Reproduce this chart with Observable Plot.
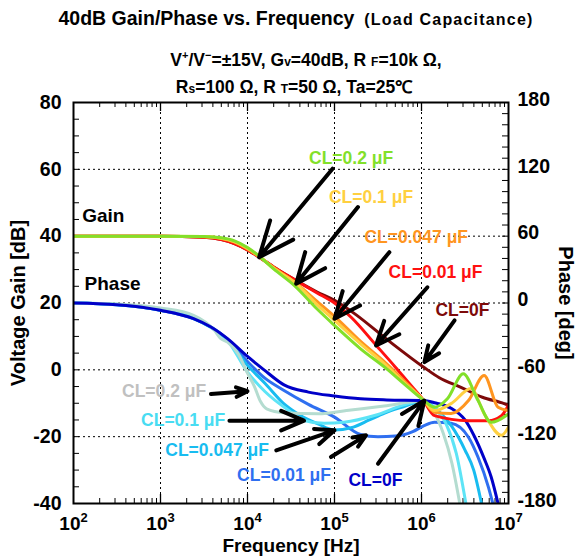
<!DOCTYPE html>
<html><head><meta charset="utf-8">
<script src="https://cdn.jsdelivr.net/npm/d3@7"></script>
<script src="https://cdn.jsdelivr.net/npm/@observablehq/plot@0.6"></script>
<style>
body{margin:0;background:#fff;font-family:"Liberation Sans",Arial,sans-serif;}
#wrap{position:relative;width:578px;height:560px;overflow:hidden;}
#chart{position:absolute;left:0;top:0;}
.t{position:absolute;left:0;width:600px;text-align:center;font-weight:bold;color:#000;white-space:nowrap;font-family:"Liberation Sans",Arial,sans-serif;}
.s{font-size:12px;}
</style></head><body>
<div id="wrap">
<div id="chart"></div>
<div class="t" style="top:7px;font-size:19.5px;left:-4px;">40dB Gain/Phase vs. Frequency<span style="font-size:16px;letter-spacing:1.2px;margin-left:10px">(Load Capacitance)</span></div>
<div class="t" style="top:49px;font-size:17.5px;left:6px;">V<sup style="font-size:11px">+</sup>/V<sup style="font-size:11px">−</sup>=±15V, G<span class="s">v</span>=40dB, R <span class="s">F</span>=10k Ω,</div>
<div class="t" style="top:74px;font-size:17.5px;left:-6px;">R<span class="s">s</span>=100 Ω, R <span class="s">T</span>=50 Ω, Ta=25℃</div>
</div>
<script>
// ---- Gain curves: log10(frequency/Hz) and gain [dB] ----
const gainExp0F   = [2,3,3.5,3.7,3.85,4.0,4.135,4.3,4.54,4.8,5.0,5.226,5.617,6.03,6.2,6.46,6.7,6.95,7.0];
const gainDb0F    = [40,40,39.7,39.0,37.8,35.9,33.7,30.8,27.0,23.3,20.8,16.9,8.8,0.7,-2.3,-5.3,-8.2,-10.1,-10.6];
const gainExp001  = [2,3,3.5,3.7,3.85,4.0,4.135,4.3,4.54,4.8,5.0,5.2,5.48,5.7,5.85,6.02,6.15,6.54,6.77,6.92,7.0];
const gainDb001   = [40,40,39.7,39.0,37.8,35.9,33.7,30.8,27.0,23.0,20.0,15.5,7.3,0.8,-3.8,-9,-13.7,-15.2,-15.2,-13.7,-10.5];
const gainExp0047 = [2,3,3.5,3.7,3.85,4.0,4.135,4.3,4.54,4.8,5.0,5.3,5.6,5.8,6.02,6.15,6.34,6.54,6.72,6.88,7.0];
const gainDb0047  = [40,40,39.8,39.3,38.2,36.2,33.8,30.6,26.3,20.5,16,8.5,1.8,-3.3,-9,-12.7,-13.1,-9.2,-1.7,-11.2,-12.2];
const gainExp01   = [2,3,3.5,3.7,3.85,4.0,4.135,4.3,4.56,4.8,5.0,5.3,5.6,5.8,6.02,6.15,6.34,6.57,6.72,6.92,7.0];
const gainDb01    = [40,40,39.9,39.4,38.4,36.4,34.0,30.4,25.8,19.5,14.8,7.8,1.2,-3.8,-9,-12.2,-10.1,-5.6,-13.1,-19.6,-17.1];
const gainExp02   = [2,3,3.5,3.7,3.85,4.0,4.135,4.3,4.54,4.8,5.0,5.3,5.6,5.8,6.02,6.15,6.3,6.48,6.65,6.8,7.0];
const gainDb02    = [40,40,39.9,39.5,38.6,36.6,34.0,30.2,25.2,18.2,13.3,6.3,0.3,-4.2,-9,-11.2,-8.6,-1.2,-9.2,-15.7,-13.2];

// ---- Phase curves: log10(frequency/Hz) and phase [deg] ----
const phExp0F   = [2,2.5,3,3.38,3.58,3.77,4.0,4.19,4.42,4.7,5.0,5.3,5.6,6.02,6.15,6.34,6.5,6.6,6.72,6.8,6.88];
const phDeg0F   = [0,-1.5,-6.5,-14,-21.5,-32,-48,-60,-73.5,-80,-83.5,-86,-87,-87.5,-89.5,-94.5,-105,-118.5,-139.5,-156,-180];
const phExp001  = [2,2.5,3,3.38,3.58,3.77,4.0,4.2,4.42,4.7,5.0,5.3,5.5,5.7,5.9,6.03,6.15,6.34,6.54,6.65,6.77,6.82];
const phDeg001  = [0,-1.5,-6.5,-14,-21.5,-32.5,-52.5,-67.5,-78.5,-91,-102.5,-118,-120,-119.5,-115.5,-110,-107,-108,-120.5,-138.5,-165.5,-180];
const phExp0047 = [2,2.5,3,3.38,3.58,3.77,4.0,4.2,4.42,4.6,4.81,5.0,5.19,5.4,5.57,5.8,6.02,6.2,6.35,6.5,6.6,6.69];
const phDeg0047 = [0,-1.5,-6.5,-14,-22,-33,-56,-72,-90.5,-100.5,-108.5,-114,-112,-105,-99,-93,-88,-97.5,-111,-132,-150,-180];
const phExp01   = [2,2.5,3,3.38,3.58,3.77,4.0,4.2,4.5,4.63,4.88,5.11,5.46,5.8,6.02,6.15,6.28,6.4,6.51];
const phDeg01   = [0,-1.2,-6,-13.2,-21.6,-33.6,-62,-79.5,-98,-105,-108,-107,-101,-91.5,-87.5,-94.5,-108,-135,-180];
const phExp02   = [2,2.5,3,3.38,3.62,3.69,3.77,3.9,4.0,4.08,4.15,4.22,4.42,4.81,5.19,5.57,6.0,6.15,6.25,6.35,6.44];
const phDeg02   = [0,-0.9,-4.5,-11,-24.6,-31.8,-35,-46.5,-63,-75,-88.5,-95,-98.5,-99.5,-96,-92.5,-88,-99,-117,-144,-180];

// ---- ticks ----
const xTicks = [1e2,1e3,1e4,1e5,1e6,1e7];
const gainTicks = [-40,-20,0,20,40,60,80];
const phaseTicks = [-180,-120,-60,0,60,120,180];

// ---- colours ----
const gainColors  = {"0F":"#7d0a0a","0.01":"#ff1010","0.047":"#ff9520","0.1":"#ffd040","0.2":"#82e02a"};
const phaseColors = {"0F":"#0000c8","0.01":"#2f6ff0","0.047":"#18bcf0","0.1":"#5de4f6","0.2":"#b4dcd0"};
const phaseLabelColors = {"0F":"#0000c8","0.01":"#2f6ff0","0.047":"#18bcf0","0.1":"#48dcf2","0.2":"#c0c0c0"};

// ---- annotations (frequency Hz, level in dB-axis units) ----
const gainLabelKeys = ["0.2","0.1","0.047","0.01","0F"];
const gainLabelF  = [1.55e5,2.63e5,8.7e5,1.45e6,2.95e6];
const gainLabelDb = [63.2,51.7,39.7,29.2,17.8];
const gainArrowF1 = [9.5e4,1.86e5,4.27e5,1.17e6,2.4e6];
const gainArrowDb1= [60.2,48.7,35.2,24.7,14.8];
const gainArrowF2 = [1.36e4,3.63e4,1.0e5,3.0e5,1.08e6];
const gainArrowDb2= [33.7,25.8,15.3,7.3,2.3];

const phLabelKeys = ["0.2","0.1","0.047","0.01","0F"];
const phLabelF  = [1.1e3,1.82e3,4.47e3,2.63e4,2.95e5];
const phLabelDb = [-6.4,-15.2,-24.1,-31.6,-33.1];
const phArrowF1 = [3.8e3,6.2e3,2.14e4,9.1e4,3.16e5];
const phArrowDb1= [-7.2,-15.2,-24.1,-26.1,-28.1];
const phArrowF2 = [1.0e4,4.47e4,1.0e5,2.3e5,1.08e6];
const phArrowDb2= [-6.4,-15.2,-18.1,-19.6,-9.2];

const W = 578, H = 560, mL = 73, mR = 70, mT = 102, mB = 57;
const pw = W - mL - mR, ph = H - mT - mB;
const degToDb = p => (p + 60) / 3;

const series = (exps, vals) => exps.map((e, i) => ({f: 10 ** e, v: vals[i]}));
const gainSeries = [
  ["0F", series(gainExp0F, gainDb0F)],
  ["0.01", series(gainExp001, gainDb001)],
  ["0.047", series(gainExp0047, gainDb0047)],
  ["0.1", series(gainExp01, gainDb01)],
  ["0.2", series(gainExp02, gainDb02)]
];
const phaseSeries = [
  ["0.01", series(phExp001, phDeg001.map(degToDb))],
  ["0.047", series(phExp0047, phDeg0047.map(degToDb))],
  ["0.1", series(phExp01, phDeg01.map(degToDb))],
  ["0.2", series(phExp02, phDeg02.map(degToDb))],
  ["0F", series(phExp0F, phDeg0F.map(degToDb))]
];

const xMinor = [];
for (let d = 2; d < 7; d++) for (let m = 2; m < 10; m++) xMinor.push(m * 10 ** d);
const xMajorInner = [1e3,1e4,1e5,1e6];
const yMinorLeft = d3.range(-40, 81, 5);
const yMinorRight = d3.range(-180, 181, 10).map(degToDb);

const labelRows = [
  ...gainLabelKeys.map((k, i) => ({f: gainLabelF[i], v: gainLabelDb[i], t: "CL=" + (k === "0F" ? "0F" : k + " μF"), c: gainColors[k]})),
  ...phLabelKeys.map((k, i) => ({f: phLabelF[i], v: phLabelDb[i], t: "CL=" + (k === "0F" ? "0F" : k + " μF"), c: phaseLabelColors[k]}))
];
const arrowRows = [
  ...gainArrowF1.map((f, i) => ({x1: f, y1: gainArrowDb1[i], x2: gainArrowF2[i], y2: gainArrowDb2[i]})),
  ...phArrowF1.map((f, i) => ({x1: f, y1: phArrowDb1[i], x2: phArrowF2[i], y2: phArrowDb2[i]}))
];

const dash = {stroke: "#000", strokeOpacity: 1, strokeWidth: 1, strokeDasharray: "2,3"};

const plot = Plot.plot({
  width: W, height: H,
  marginLeft: mL, marginRight: mR, marginTop: mT, marginBottom: mB,
  x: {type: "log", domain: [1e2, 1e7]},
  y: {domain: [-40, 80]},
  color: {type: "identity"},
  style: {fontFamily: "'Liberation Sans', Arial, sans-serif", fontWeight: "bold", fontSize: "19px", background: "transparent", color: "#000"},
  marks: [
    Plot.gridX(xMajorInner, dash),
    Plot.gridY([-20, 0, 20, 40, 60], dash),
    Plot.tickX(xMinor, {x: d => d, insetTop: ph - 5, stroke: "#000"}),
    Plot.tickX(xMinor, {x: d => d, insetBottom: ph - 5, stroke: "#000"}),
    Plot.tickX(xMajorInner, {x: d => d, insetTop: ph - 9, stroke: "#000", strokeWidth: 1.3}),
    Plot.tickX(xMajorInner, {x: d => d, insetBottom: ph - 9, stroke: "#000", strokeWidth: 1.3}),
    Plot.tickY(yMinorLeft, {y: d => d, insetRight: pw - 6, stroke: "#000"}),
    Plot.tickY(yMinorRight, {y: d => d, insetLeft: pw - 6, stroke: "#000"}),
    ...phaseSeries.map(([k, data]) => Plot.line(data, {x: "f", y: "v", stroke: phaseColors[k], strokeWidth: 3, curve: "monotone-x", clip: true})),
    ...gainSeries.map(([k, data]) => Plot.line(data, {x: "f", y: "v", stroke: gainColors[k], strokeWidth: 3, curve: "monotone-x", clip: true})),
    Plot.arrow(arrowRows, {x1: "x1", y1: "y1", x2: "x2", y2: "y2", stroke: "#000", strokeWidth: 4, headLength: 17, headAngle: 46}),
    Plot.text(labelRows, {x: "f", y: "v", text: "t", fill: "c", fontSize: 17.5, fontWeight: "bold", ariaLabel: "cl-label"}),
    Plot.text(["Gain"], {x: [126], y: [46.2], textAnchor: "start", fontSize: 19, fontWeight: "bold", fill: "#000"}),
    Plot.text(["Phase"], {x: [134], y: [25.8], textAnchor: "start", fontSize: 19, fontWeight: "bold", fill: "#000"}),
    Plot.frame({stroke: "#000", strokeWidth: 2}),
    Plot.axisY(gainTicks, {anchor: "left", tickSize: 0, tickPadding: 12, tickFormat: d => String(d), label: null, fontSize: 19.5}),
    Plot.axisY(phaseTicks.map(degToDb), {anchor: "right", tickSize: 0, tickPadding: 9, dy: -3, tickFormat: d => String(Math.round(3 * d - 60)), label: null, fontSize: 19.5}),
    Plot.axisX(xTicks, {anchor: "bottom", tickSize: 0, tickPadding: 13, tickFormat: d => "10^" + Math.round(Math.log10(d)), label: null, fontSize: 19}),
    Plot.text(["Voltage Gain [dB]"], {frameAnchor: "left", dx: -55, rotate: -90, textAnchor: "middle", fontSize: 20, fontWeight: "bold", fill: "#000"}),
    Plot.text(["Phase [deg]"], {frameAnchor: "right", dx: 57, rotate: 90, textAnchor: "middle", fontSize: 20, fontWeight: "bold", fill: "#000"}),
    Plot.text(["Frequency [Hz]"], {frameAnchor: "bottom", dy: 48, textAnchor: "middle", fontSize: 19, fontWeight: "bold", fill: "#000"})
  ]
});
document.getElementById("chart").appendChild(plot);

// superscript exponents on x tick labels
plot.querySelectorAll('g[aria-label="x-axis tick label"] text').forEach(t => {
  const s = t.textContent;
  const m = s.match(/^10\^(\d+)$/);
  if (!m) return;
  t.textContent = "10";
  const sp = document.createElementNS("http://www.w3.org/2000/svg", "tspan");
  sp.setAttribute("dy", "-8");
  sp.setAttribute("font-size", "13");
  sp.textContent = m[1];
  t.appendChild(sp);
});
// small "L" subscript and italic µ in CL labels
plot.querySelectorAll('g[aria-label="cl-label"] text').forEach(t => {
  const s = t.textContent;
  const m = s.match(/^CL=(.*?)( μF)?$/);
  if (!m) return;
  const ns = "http://www.w3.org/2000/svg";
  t.textContent = "C";
  const l = document.createElementNS(ns, "tspan");
  l.setAttribute("font-size", "13"); l.textContent = "L"; t.appendChild(l);
  const v = document.createElementNS(ns, "tspan");
  v.textContent = "=" + m[1] + (m[2] ? " " : ""); t.appendChild(v);
  if (m[2]) {
    const mu = document.createElementNS(ns, "tspan");
    mu.setAttribute("font-style", "italic"); mu.textContent = "μ"; t.appendChild(mu);
    const fF = document.createElementNS(ns, "tspan");
    fF.textContent = "F"; t.appendChild(fF);
  }
});
</script>
</body></html>
